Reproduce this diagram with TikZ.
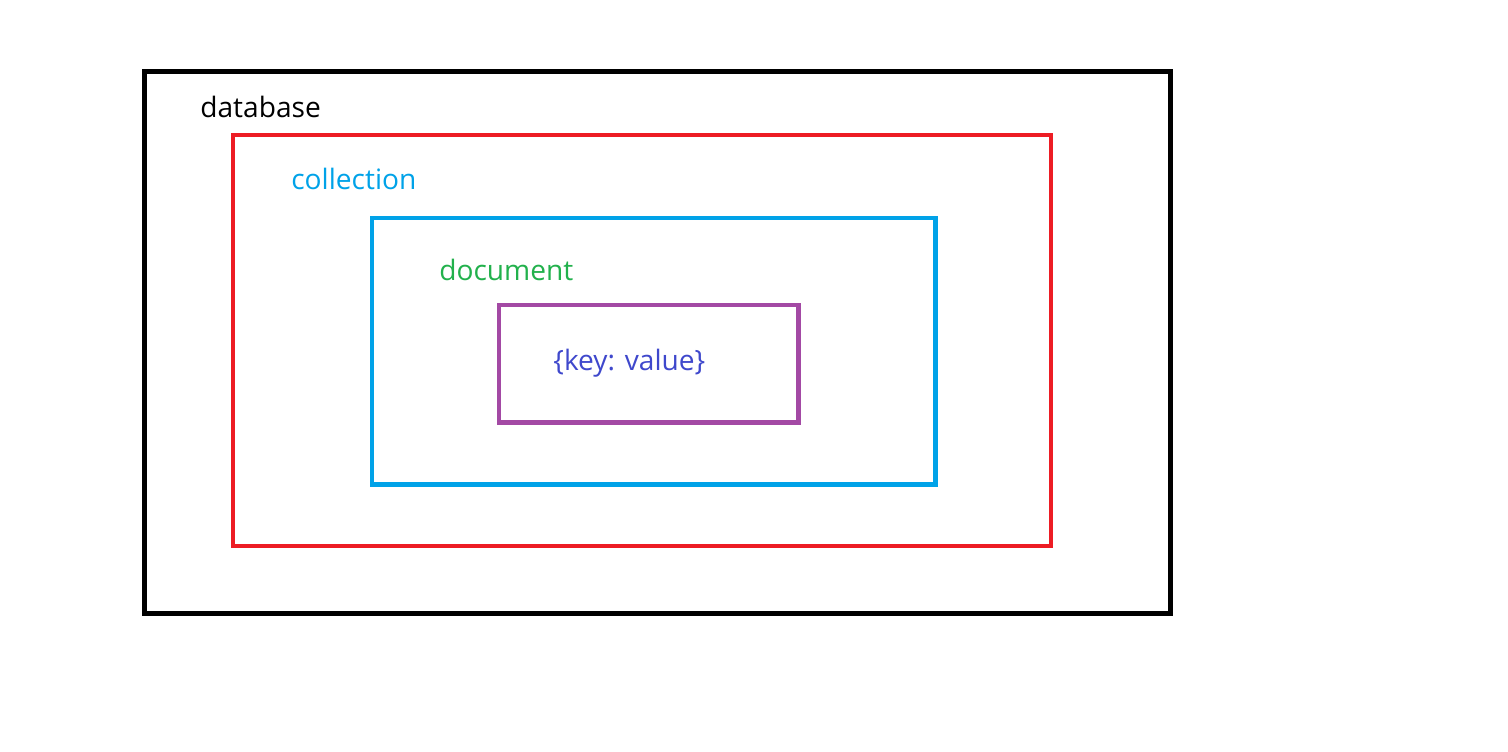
\documentclass[tikz,border=0pt]{standalone}
\usepackage{fontspec}
\setmainfont{Open Sans}
\usepackage{xcolor}
\usetikzlibrary{calc}

\definecolor{dbred}{HTML}{ED1C24}
\definecolor{collblue}{HTML}{00A2E8}
\definecolor{docgreen}{HTML}{22B14C}
\definecolor{kvpurple}{HTML}{A349A4}
\definecolor{kvtext}{HTML}{3F48CC}

\tikzset{
  box/.style={line width=2.3pt},
  lbl/.style={anchor=base west, inner sep=0pt, font=\fontsize{16}{19}\selectfont}
}

\begin{document}
\begin{tikzpicture}[x=0.02cm, y=-0.02cm]

  % Canvas
  \useasboundingbox (0,0) rectangle (1508,751);

  % Define corners of the boxes
  \coordinate (DB1) at (144.5,71.5);
  \coordinate (DB2) at (1170.5,613.5);
  \coordinate (CO1) at (233,135);
  \coordinate (CO2) at (1051,546);
  \coordinate (DO1) at (372,218);
  \coordinate (DO2) at (935.5,484.5);
  \coordinate (KV1) at (499,305);
  \coordinate (KV2) at (798.5,422.5);

  % Draw the nested boxes
  \draw[box, line width=2.85pt, black] (DB1) rectangle (DB2);
  \draw[box, dbred] (CO1) rectangle (CO2);
  \draw[box, collblue] (DO1) rectangle (DO2);
  \draw[box, kvpurple] (KV1) rectangle (KV2);

  % Label the boxes
  \node[lbl, black] (database) at (200,117) {database};
  \node[lbl, collblue] (collection) at (291,189) {collection};
  \node[lbl, docgreen] (document) at (439,280) {document};
  \node[lbl, kvtext] (keyvalue) at (553,370) {\{key: value\}};

\end{tikzpicture}
\end{document}
